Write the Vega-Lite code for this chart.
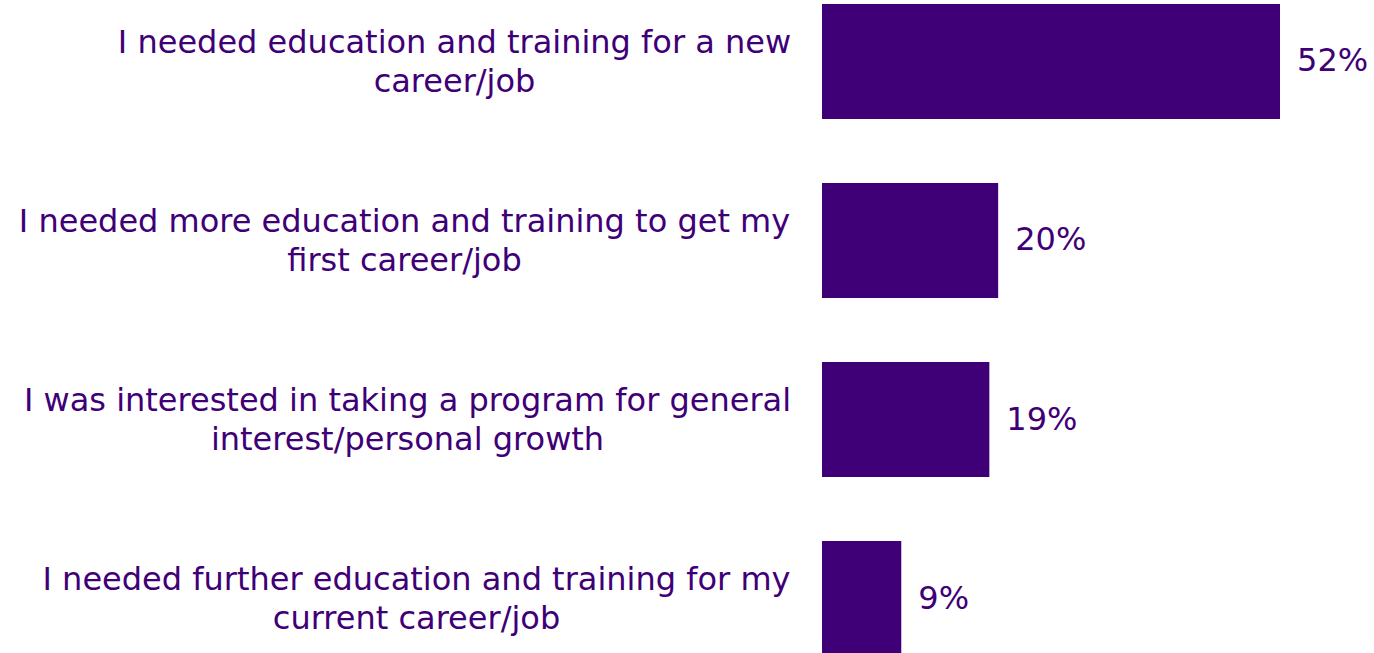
{
  "$schema": "https://vega.github.io/schema/vega-lite/v6.json",
  "autosize": {"type": "none"},
  "padding": {"left": 822, "top": 0, "right": 0, "bottom": 0},
  "width": 552,
  "height": 660,
  "background": "white",
  "config": {"view": {"stroke": null}},
  "data": {"values": [
    {"reason": "I needed education and training for a new\ncareer/job", "share": 0.52},
    {"reason": "I needed more education and training to get my\nfirst career/job", "share": 0.20},
    {"reason": "I was interested in taking a program for general\ninterest/personal growth", "share": 0.19},
    {"reason": "I needed further education and training for my\ncurrent career/job", "share": 0.09}
  ]},
  "encoding": {
    "y": {
      "field": "reason", "type": "nominal", "sort": null, "title": null,
      "scale": {"paddingInner": 0.3575, "paddingOuter": 0.0223},
      "axis": {
        "domain": false, "ticks": false, "grid": false,
        "labelFont": "DejaVu Sans", "labelFontSize": 32, "labelColor": "#3f0077",
        "labelLimit": 0, "labelAlign": "center", "labelBaseline": "middle",
        "labelLineHeight": 39, "labelOffset": -18.5,
        "labelPadding": {
          "condition": [
            {"test": "indexof(datum.value, 'for a new') >= 0", "value": 368},
            {"test": "indexof(datum.value, 'first career') >= 0", "value": 418},
            {"test": "indexof(datum.value, 'general') >= 0", "value": 415}
          ],
          "value": 406
        },
        "labelExpr": "split(datum.label, '\\n')"
      }
    },
    "x": {"field": "share", "type": "quantitative", "scale": {"domain": [0, 0.6267]}, "axis": null}
  },
  "layer": [
    {"mark": {"type": "bar", "color": "#3f0077"}},
    {"mark": {"type": "text", "align": "left", "baseline": "middle", "dx": 17, "font": "DejaVu Sans", "fontSize": 32, "color": "#3f0077"},
     "encoding": {"text": {"field": "share", "type": "quantitative", "format": ".0%"}}}
  ]
}
